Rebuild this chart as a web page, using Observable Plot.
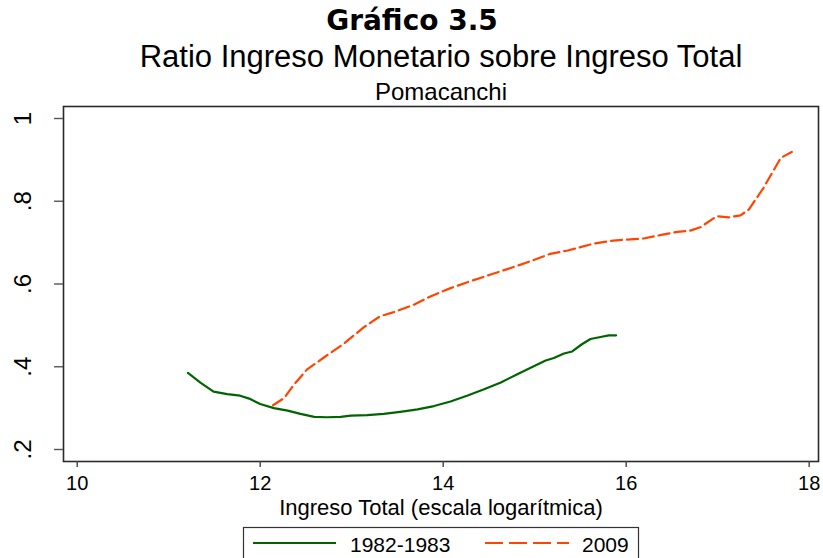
<!DOCTYPE html>
<html>
<head>
<meta charset="utf-8">
<script src="https://cdn.jsdelivr.net/npm/d3@7"></script>
<script src="https://cdn.jsdelivr.net/npm/@observablehq/plot@0.6"></script>
<style>
  html, body { margin: 0; padding: 0; background: #fff; }
  #wrap { position: relative; width: 823px; height: 558px; overflow: hidden; font-family: "Liberation Sans", Arial, sans-serif; }
  .t { position: absolute; white-space: nowrap; color: #000; line-height: 1; }
  #chart { position: absolute; left: 0; top: 0; }
</style>
</head>
<body>
<div id="wrap">
  <div id="chart"></div>
</div>
<script>
// ---- data ----
const titleText = "Gráfico 3.5";
const subtitleText = "Ratio Ingreso Monetario sobre Ingreso Total";
const subsubText = "Pomacanchi";
const xTitle = "Ingreso Total (escala logarítmica)";
const seriesNames = ["1982-1983", "2009"];
const xTicks = [10, 12, 14, 16, 18];
const yTicks = [0.2, 0.4, 0.6, 0.8, 1];

const x1982 = [11.21, 11.35, 11.49, 11.64, 11.78, 11.88, 12.00, 12.15, 12.30, 12.44, 12.59, 12.73, 12.88, 12.99, 13.17, 13.35, 13.53, 13.72, 13.90, 14.08, 14.26, 14.44, 14.63, 14.81, 14.99, 15.12, 15.21, 15.32, 15.41, 15.52, 15.61, 15.72, 15.81, 15.89];
const y1982 = [0.385, 0.361, 0.340, 0.334, 0.330, 0.323, 0.310, 0.300, 0.294, 0.286, 0.279, 0.278, 0.279, 0.282, 0.283, 0.286, 0.291, 0.297, 0.305, 0.316, 0.330, 0.345, 0.362, 0.382, 0.401, 0.415, 0.421, 0.432, 0.437, 0.455, 0.467, 0.472, 0.476, 0.476];

const x2009 = [12.14, 12.26, 12.37, 12.51, 12.70, 12.91, 13.13, 13.31, 13.46, 13.68, 13.86, 14.08, 14.30, 14.52, 14.77, 14.99, 15.17, 15.36, 15.50, 15.65, 15.86, 16.19, 16.37, 16.56, 16.70, 16.81, 16.99, 17.12, 17.25, 17.34, 17.50, 17.69, 17.81];
const y2009 = [0.307, 0.324, 0.357, 0.393, 0.423, 0.455, 0.495, 0.522, 0.532, 0.550, 0.570, 0.590, 0.607, 0.623, 0.641, 0.658, 0.673, 0.681, 0.689, 0.698, 0.705, 0.710, 0.718, 0.726, 0.729, 0.737, 0.764, 0.761, 0.766, 0.780, 0.832, 0.905, 0.919];

// ---- styles ----
const colors = ["#006400", "#ff4500"];
const dashes = [null, "11,5"];

const d1982 = x1982.map((x, i) => ({x, y: y1982[i]}));
const d2009 = x2009.map((x, i) => ({x, y: y2009[i]}));

const fmtY = d => d === 1 ? "1" : String(d).replace(/^0/, "");

const chart = Plot.plot({
  width: 823,
  height: 558,
  marginLeft: 63,
  marginRight: 5,
  marginTop: 106,
  marginBottom: 97,
  style: {fontFamily: "'Liberation Sans', Arial, sans-serif", background: "white", color: "#000"},
  x: {domain: [9.850, 18.102]},
  y: {domain: [0.171, 1.029]},
  marks: [
    Plot.frame({stroke: "#2a2a2a", strokeWidth: 1.6}),
    Plot.axisX({ticks: xTicks, tickFormat: d => String(d), tickSize: 6, tickPadding: 8, fontSize: 20, label: null, stroke: "#444", strokeWidth: 1.4}),
    Plot.axisY({ticks: yTicks, tickFormat: fmtY, tickRotate: -90, tickSize: 9, tickPadding: 24, fontSize: 24, label: null, stroke: "#555", strokeWidth: 1.4}),
    Plot.line(d1982, {x: "x", y: "y", stroke: colors[0], strokeWidth: 2.2}),
    Plot.line(d2009, {x: "x", y: "y", stroke: colors[1], strokeWidth: 2.2, strokeDasharray: dashes[1]})
  ]
});
document.getElementById("chart").appendChild(chart);

const wrap = document.getElementById("wrap");
function addText(txt, css) {
  const el = document.createElement("div");
  el.className = "t";
  el.textContent = txt;
  Object.assign(el.style, css);
  wrap.appendChild(el);
  return el;
}
function centerAt(el, cx) {
  const w = el.getBoundingClientRect().width;
  el.style.left = (cx - w / 2) + "px";
}
const t1 = addText(titleText, {fontFamily: "'DejaVu Sans', sans-serif", fontWeight: "bold", fontSize: "28px", top: "7px"});
centerAt(t1, 412);
const t2 = addText(subtitleText, {fontSize: "31px", top: "41px"});
centerAt(t2, 441);
const t3 = addText(subsubText, {fontSize: "24px", top: "80px"});
centerAt(t3, 441);
const t4 = addText(xTitle, {fontSize: "22px", top: "497px"});
centerAt(t4, 441);

// legend
const leg = d3.select(wrap).append("svg")
  .attr("width", 823).attr("height", 558)
  .style("position", "absolute").style("left", "0px").style("top", "0px");
leg.append("rect").attr("x", 243.5).attr("y", 527.5).attr("width", 395).attr("height", 40)
  .attr("fill", "white").attr("stroke", "#333").attr("stroke-width", 1.2);
const items = [
  {x0: 253, x1: 336, tx: 350},
  {x0: 485, x1: 569, tx: 582}
];
items.forEach((it, i) => {
  const ln = leg.append("line").attr("x1", it.x0).attr("x2", it.x1).attr("y1", 543).attr("y2", 543)
    .attr("stroke", colors[i]).attr("stroke-width", 2.2);
  if (i === 1) ln.attr("stroke-dasharray", "18,6");
  leg.append("text").attr("x", it.tx).attr("y", 551.5).attr("font-size", 21)
    .attr("font-family", "'Liberation Sans', Arial, sans-serif").attr("fill", "#000").text(seriesNames[i]);
});
</script>
</body>
</html>
